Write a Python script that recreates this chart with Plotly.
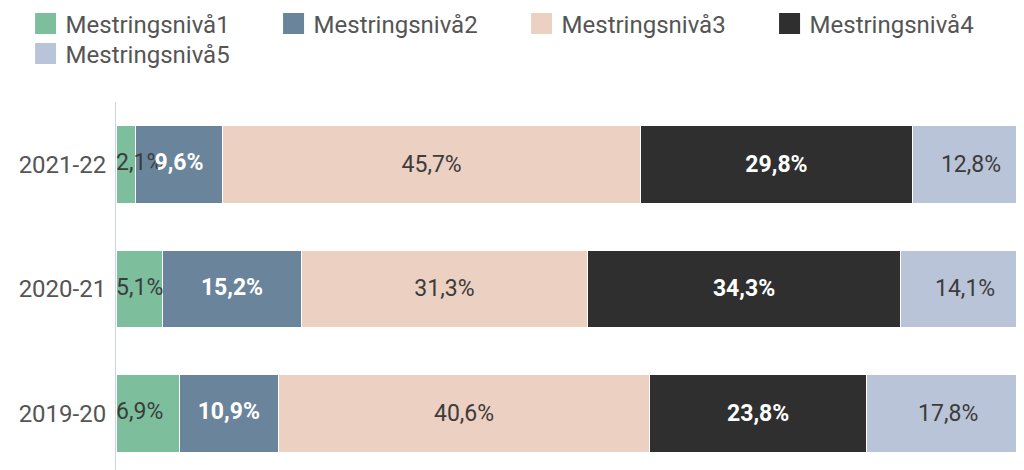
import plotly.graph_objects as go

# school years (top to bottom in the picture)
years = ['2021-22', '2020-21', '2019-20']

# share of pupils per mastery level, in %
niva1 = [2.1, 5.1, 6.9]
niva2 = [9.6, 15.2, 10.9]
niva3 = [45.7, 31.3, 40.6]
niva4 = [29.8, 34.3, 23.8]
niva5 = [12.8, 14.1, 17.8]

names = ['Mestringsnivå1', 'Mestringsnivå2', 'Mestringsnivå3', 'Mestringsnivå4', 'Mestringsnivå5']
colors = ['#7dbf9c', '#6a849b', '#ecd0c2', '#2f2f2f', '#b9c4d8']
text_colors = ['#3c3c3c', '#ffffff', '#3c3c3c', '#ffffff', '#3c3c3c']
text_weights = ['normal', 'bold', 'normal', 'bold', 'normal']
# level 1 and 2 labels are drawn separately, above the bars
show_text = [False, False, True, True, True]
# first four entries on row one, the last on its own row
legend_ids = ['legend', 'legend', 'legend', 'legend', 'legend2']


def pct(v):
	return f"{v:.1f}%".replace('.', ',')


fig = go.Figure()
for name, vals, col, tcol, tw, st, lg in zip(names, [niva1, niva2, niva3, niva4, niva5], colors, text_colors, text_weights, show_text, legend_ids):
	fig.add_trace(go.Bar(
		y=years,
		x=vals,
		orientation='h',
		name=name,
		marker=dict(color=col, line=dict(color='white', width=1)),
		texttemplate='%{x:.1f}%' if st else None,
		textposition='inside' if st else 'none',
		insidetextanchor='middle',
		textangle=0,
		constraintext='none',
		textfont=dict(color=tcol, size=23, family='Roboto', weight=tw),
		showlegend=False,
		hoverinfo='skip',
	))
	# legend entry with a bigger square swatch
	fig.add_trace(go.Scatter(
		x=[None], y=[None],
		mode='markers',
		name=name,
		legend=lg,
		marker=dict(symbol='square', size=16, color=col, line=dict(color=col, width=5)),
		showlegend=True,
	))

# level 1 labels, left aligned at the stack base
fig.add_trace(go.Scatter(
	y=years,
	x=[0 for v in niva1],
	mode='text',
	text=[pct(v) for v in niva1],
	textposition='middle right',
	textfont=dict(color='#3c3c3c', size=23, family='Roboto'),
	showlegend=False,
	hoverinfo='skip',
))
# level 2 labels, centred in their segment, drawn over the level 1 labels
fig.add_trace(go.Scatter(
	y=years,
	x=[a + b / 2 for a, b in zip(niva1, niva2)],
	mode='text',
	text=[pct(v) for v in niva2],
	textposition='middle center',
	textfont=dict(color='#ffffff', size=23, family='Roboto', weight='bold'),
	showlegend=False,
	hoverinfo='skip',
))

legend_style = dict(
	orientation='h',
	x=-0.0996,
	xanchor='left', yanchor='top',
	entrywidth=203,
	entrywidthmode='pixels',
	font=dict(size=24, color='#555555'),
	traceorder='normal',
	tracegroupgap=0,
	bgcolor='rgba(0,0,0,0)',
)

# the page body has an 8px margin, so the figure is 8px smaller and shifted
fig.update_layout(
	barmode='stack',
	bargap=0.38,
	separators=', ',
	width=1016,
	height=462,
	margin=dict(l=108, r=0, t=94, b=0, autoexpand=False),
	paper_bgcolor='white',
	plot_bgcolor='white',
	font=dict(family='Roboto', color='#555555'),
	legend=dict(legend_style, y=1.2731),
	legend2=dict(legend_style, y=1.1916),
)

fig.update_xaxes(
	range=[0, 99.4],
	showgrid=False,
	zeroline=False,
	showticklabels=False,
	showline=False,
)

fig.update_yaxes(
	type='category',
	categoryorder='array',
	categoryarray=years[::-1],
	range=[-0.454, 2.502],
	showgrid=False,
	zeroline=False,
	showline=True,
	linecolor='#c9d3ee',
	linewidth=1,
	ticks='',
	ticklabelstandoff=4,
	tickfont=dict(size=24, color='#555555'),
)

fig.write_html("out.html")
